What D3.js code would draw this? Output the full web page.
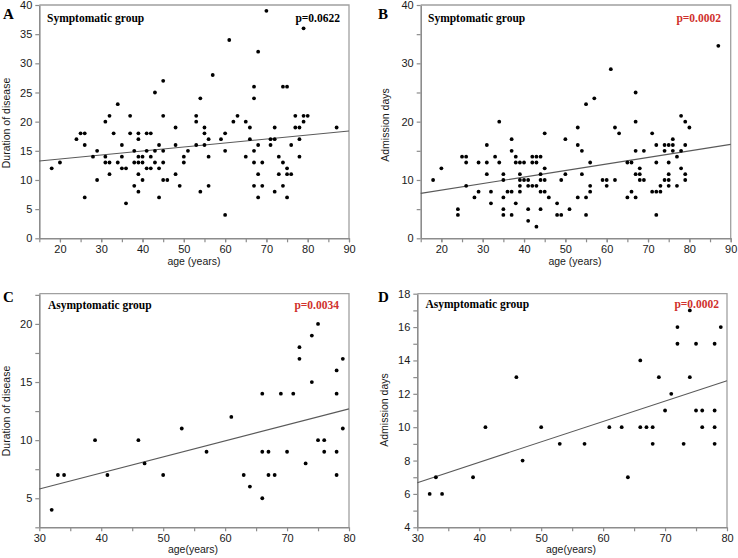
<!DOCTYPE html>
<html><head><meta charset="utf-8">
<script src="https://cdn.jsdelivr.net/npm/d3@7"></script>
<style>body{margin:0;background:#fff}svg{display:block}</style>
</head><body>
<svg id="chart" width="738" height="558"></svg>
<script>
// ---- Data ----
const agesA = [18,20,24,25,26,26,26,28,29,29,31,31,31,32,32,32,33,34,34,35,35,35,36,36,37,37,38,38,38,39,39,39,39,39,39,40,40,40,41,41,41,42,42,42,43,43,43,44,44,44,45,45,45,45,45,46,48,48,48,49,50,50,51,53,53,53,54,54,55,55,55,56,56,56,57,59,60,60,60,61,62,63,65,65,66,66,67,67,67,67,67,68,68,68,68,69,69,70,71,71,72,72,72,73,73,74,74,74,75,75,75,75,76,76,77,77,78,78,78,79,79,79,80,87];
const durationA = [12,13,17,18,18,16,7,14,15,10,20,14,13,21,13,11,18,23,13,16,14,12,12,6,21,18,15,13,9,18,17,14,13,11,8,14,13,10,18,15,12,18,14,12,25,15,13,16,12,7,27,21,15,13,10,10,19,16,11,9,14,13,15,21,20,16,24,8,19,18,16,17,14,9,28,17,18,15,4,34,20,21,20,14,19,17,26,24,15,13,9,32,16,11,7,13,9,39,17,16,19,17,8,14,11,26,13,9,26,12,11,7,16,11,21,19,19,17,14,36,21,20,21,19];

const agesB = [18,20,24,24,25,26,26,26,28,29,29,31,31,31,32,32,33,34,34,35,35,35,35,35,36,37,37,37,37,38,38,38,39,39,39,39,39,40,40,41,41,41,41,42,42,42,43,43,43,43,44,44,44,44,44,45,45,45,45,46,48,48,49,49,50,50,51,53,53,53,54,54,55,55,55,56,56,56,57,59,60,60,61,62,62,63,65,65,66,66,67,67,67,67,67,68,68,68,69,69,71,71,72,72,72,72,73,73,74,74,74,75,75,75,75,75,76,76,76,77,77,78,78,78,79,79,79,79,80,87];
const admissionB = [10,12,5,4,14,14,13,9,7,13,8,16,13,11,8,6,14,20,13,11,10,7,5,4,8,17,15,8,4,14,13,6,13,11,10,9,8,13,10,10,9,5,3,14,13,9,14,13,9,2,14,11,10,8,5,18,12,10,8,7,6,4,10,4,17,11,5,19,16,7,15,11,23,7,4,13,9,8,24,10,10,9,29,19,10,18,13,7,13,8,25,20,15,11,7,12,11,10,15,10,18,8,16,13,8,4,9,8,16,15,10,16,13,11,10,9,17,16,15,14,9,21,15,12,20,16,11,10,19,33];

const agesC = [32,33,34,39,41,46,47,50,53,57,61,63,64,66,66,66,67,67,68,69,70,71,72,72,73,74,74,75,75,76,76,78,78,78,78,79,79];
const durationC = [4,7,7,10,7,10,8,7,11,9,12,7,6,14,9,5,9,7,7,14,9,14,18,17,8,19,15,20,10,10,9,16,14,9,7,17,11];

const agesD = [32,33,34,39,41,46,47,50,53,57,61,63,64,66,66,67,68,68,69,70,71,72,72,73,74,74,75,75,76,76,78,78,78,78,79];
const admissionD = [6,7,6,7,10,13,8,10,9,9,10,10,7,14,10,10,10,9,13,11,12,16,15,9,17,13,15,11,11,10,15,11,10,9,16];

// regression lines (intercept, slope) as drawn in the reference
const fitIntercepts = [12.22, 6.02, 1.666, 3.01];
const fitSlopes = [0.0687, 0.112, 0.1378, 0.1222];

const panelLetters = ["A","B","C","D"];
const groupTitles = ["Symptomatic group","Symptomatic group","Asymptomatic group","Asymptomatic group"];
const pValues = ["p=0.0622","p=0.0002","p=0.0034","p=0.0002"];
const xTitles = ["age (years)","age (years)","age(years)","age(years)"];
const yTitles = ["Duration of disease","Admission days","Duration of disease","Admission days"];

const xTicksA = [20,30,40,50,60,70,80,90];
const xTicksC = [30,40,50,60,70,80];
const yTicksA = [0,5,10,15,20,25,30,35,40];
const yTicksB = [0,10,20,30,40];
const yTicksC = [5,10,15,20];
const yTicksD = [4,6,8,10,12,14,16,18];

// ---- Drawing ----
const svg = d3.select("#chart");
const axisColor = "#8c8c8c";
const red = "#d0312d";

const panels = [
  {xs:agesA, ys:durationA, xDom:[15,90], yDom:[0,40], xT:xTicksA, xMinor:d3.range(15,91,5), yT:yTicksA, yMinor:[],
   box:{l:39.3,r:349,t:5,b:238.3}, letter:{x:3,y:18.5}, title:{x:47,y:22}, p:{x:340,y:22,red:false},
   xTitle:{x:194,y:265}, yTitle:{x:9.5,y:123}},
  {xs:agesB, ys:admissionB, xDom:[15,90], yDom:[0,40], xT:xTicksA, xMinor:d3.range(15,91,5), yT:yTicksB, yMinor:d3.range(5,40,10),
   box:{l:420.7,r:730.7,t:5,b:238.3}, letter:{x:378,y:18.5}, title:{x:428,y:22}, p:{x:721,y:22,red:true},
   xTitle:{x:575,y:265}, yTitle:{x:389,y:125}},
  {xs:agesC, ys:durationC, xDom:[30,80], yDom:[2.5,22.6], xT:xTicksC, xMinor:d3.range(35,80,10), yT:yTicksC, yMinor:[2.5,7.5,12.5,17.5,22.5],
   box:{l:39.3,r:349,t:293.7,b:527.3}, letter:{x:3,y:302}, title:{x:48,y:309}, p:{x:339,y:309,red:true},
   xTitle:{x:193,y:553}, yTitle:{x:9.5,y:411}},
  {xs:agesD, ys:admissionD, xDom:[30,80], yDom:[4,18], xT:xTicksC, xMinor:d3.range(35,80,10), yT:yTicksD, yMinor:d3.range(5,18,2),
   box:{l:417.3,r:727,t:293.7,b:527.3}, letter:{x:378,y:302}, title:{x:425.5,y:308}, p:{x:719,y:308,red:true},
   xTitle:{x:571,y:553}, yTitle:{x:388,y:410}}
];

panels.forEach((P, i) => {
  const g = svg.append("g");
  const x = d3.scaleLinear().domain(P.xDom).range([P.box.l, P.box.r]);
  const y = d3.scaleLinear().domain(P.yDom).range([P.box.b, P.box.t]);

  // frame (top/right)
  g.append("path")
    .attr("d", `M${P.box.l},${P.box.t}H${P.box.r}V${P.box.b}`)
    .attr("fill","none").attr("stroke", "#a0a0a0").attr("stroke-width",1.3);

  const styleAxis = sel => {
    sel.select(".domain").attr("stroke", axisColor).attr("stroke-width",1.6);
    sel.selectAll(".tick line").attr("stroke", axisColor).attr("stroke-width",1.2);
    sel.selectAll(".tick text").attr("fill","#1a1a1a")
      .style("font-family","'Liberation Sans', Arial, sans-serif").style("font-size","11px");
  };

  // minor ticks
  g.append("g").attr("transform",`translate(0,${P.box.b})`)
    .call(d3.axisBottom(x).tickValues(P.xMinor).tickFormat("").tickSize(4).tickSizeOuter(0))
    .call(s => { s.select(".domain").remove(); s.selectAll("line").attr("stroke",axisColor).attr("stroke-width",1.2); });
  if (P.yMinor.length) {
    g.append("g").attr("transform",`translate(${P.box.l},0)`)
      .call(d3.axisLeft(y).tickValues(P.yMinor.filter(v => v>=P.yDom[0] && v<=P.yDom[1])).tickFormat("").tickSize(4).tickSizeOuter(0))
      .call(s => { s.select(".domain").remove(); s.selectAll("line").attr("stroke",axisColor).attr("stroke-width",1.2); });
  }

  // main axes
  g.append("g").attr("transform",`translate(0,${P.box.b})`)
    .call(d3.axisBottom(x).tickValues(P.xT).tickFormat(d3.format("d")).tickSize(4).tickSizeOuter(0).tickPadding(3))
    .call(styleAxis);
  g.append("g").attr("transform",`translate(${P.box.l},0)`)
    .call(d3.axisLeft(y).tickValues(P.yT).tickFormat(d3.format("d")).tickSize(4).tickSizeOuter(0).tickPadding(3))
    .call(styleAxis);

  // regression line
  const a = fitIntercepts[i], b = fitSlopes[i];
  g.append("line")
    .attr("x1", x(P.xDom[0])).attr("y1", y(a + b*P.xDom[0]))
    .attr("x2", x(P.xDom[1])).attr("y2", y(a + b*P.xDom[1]))
    .attr("stroke","#5a5a5a").attr("stroke-width",1.1);

  // points
  const n = Math.min(P.xs.length, P.ys.length);
  g.append("g").selectAll("circle")
    .data(d3.range(n))
    .join("circle")
    .attr("cx", k => x(P.xs[k])).attr("cy", k => y(P.ys[k]))
    .attr("r", 1.9).attr("fill","#000");

  // texts
  const serif = "'Liberation Serif', 'Times New Roman', serif";
  g.append("text").attr("x",P.letter.x).attr("y",P.letter.y).text(panelLetters[i])
    .style("font-family",serif).style("font-weight","bold").style("font-size","15px");
  g.append("text").attr("x",P.title.x).attr("y",P.title.y).text(groupTitles[i])
    .style("font-family",serif).style("font-weight","bold").style("font-size","11.5px");
  g.append("text").attr("x",P.p.x).attr("y",P.p.y).attr("text-anchor","end").text(pValues[i])
    .attr("fill", P.p.red ? red : "#000")
    .style("font-family",serif).style("font-weight","bold").style("font-size","11.5px");

  g.append("text").attr("x",P.xTitle.x).attr("y",P.xTitle.y).attr("text-anchor","middle").text(xTitles[i])
    .attr("fill","#1a1a1a")
    .style("font-family","'Liberation Sans', Arial, sans-serif").style("font-size","10.5px");
  g.append("text").attr("transform",`translate(${P.yTitle.x},${P.yTitle.y}) rotate(-90)`)
    .attr("text-anchor","middle").text(yTitles[i]).attr("fill","#1a1a1a")
    .style("font-family","'Liberation Sans', Arial, sans-serif").style("font-size","10.5px");
});
</script>
</body></html>
